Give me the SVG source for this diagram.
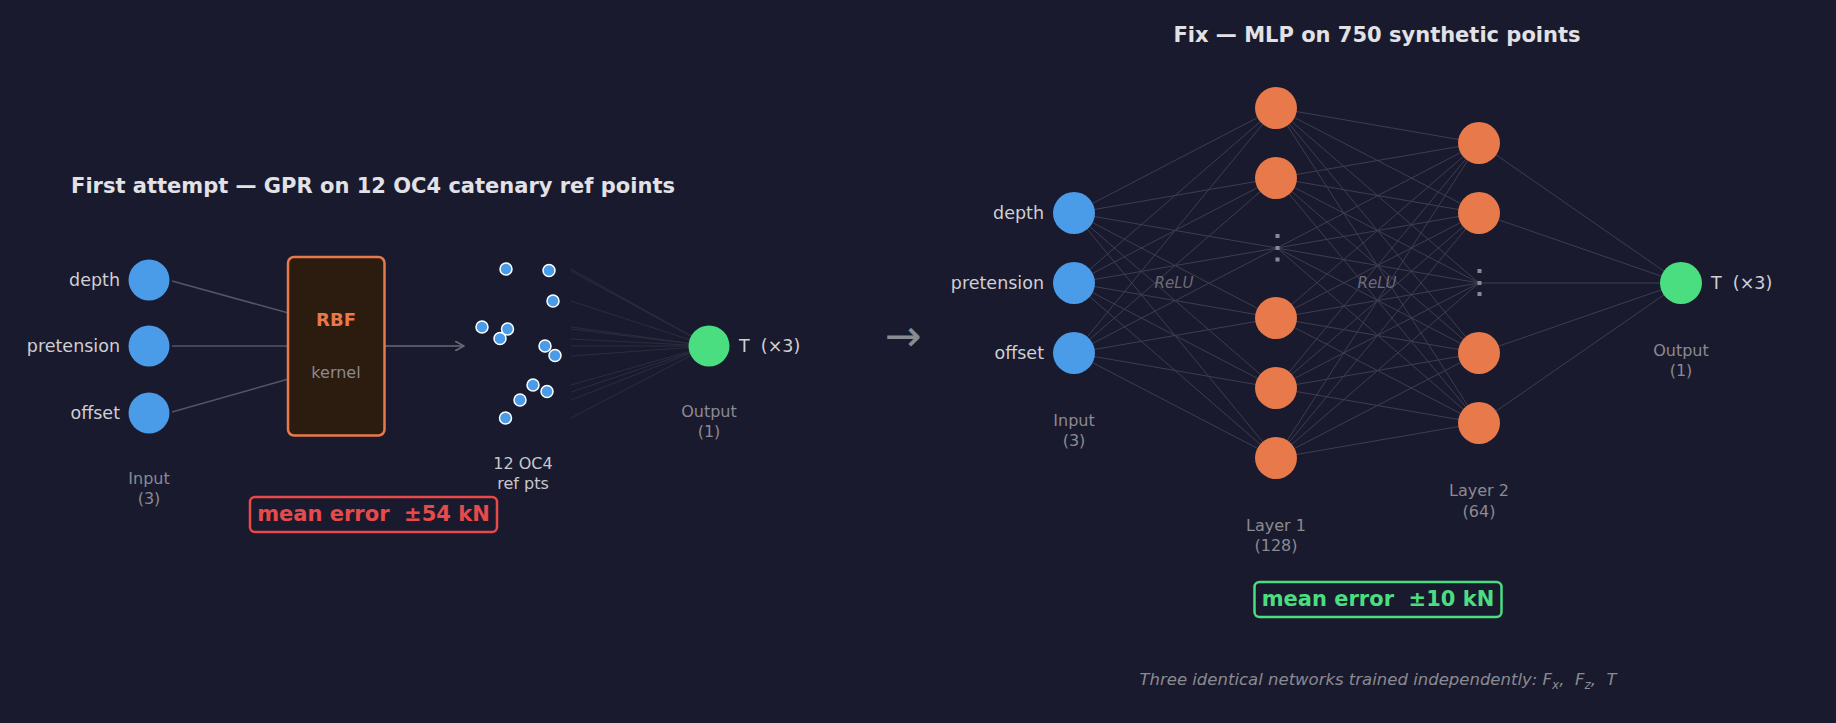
<svg xmlns="http://www.w3.org/2000/svg" width="1836" height="723" viewBox="0 0 1836 723">
<defs>
<style>
text{font-family:"DejaVu Sans","Noto Sans",sans-serif;white-space:pre}
.title{font-size:21px;font-weight:bold;fill:#e2e2e6}
.lbl{font-size:17.5px;fill:#cfcfd4}
.sub{font-size:16px;fill:#8a8a92}
.pts{font-size:16px;fill:#c8c8cc}
.relu{font-size:15px;font-style:italic;fill:#6c6c78}
.dot{fill:#8a8a92}
.inp{fill:#4a9be8}
.hid{fill:#e8794a}
.out{fill:#4ade80}
.sp{fill:#4a9be8;stroke:#ffffff;stroke-width:1.5}
.w{stroke:#3e3e52;stroke-width:1;fill:none}
.f{stroke:#2c2c3e;stroke-width:1;fill:none}
.e{stroke:#55556a;stroke-width:1.5;fill:none}
</style>
<marker id="arr" viewBox="0 0 10 10" refX="9" refY="5" markerWidth="10" markerHeight="10" markerUnits="userSpaceOnUse" orient="auto">
<path d="M0,0 L9,5 L0,10" fill="none" stroke="#6a6a78" stroke-width="1.6"/>
</marker>
</defs>
<rect width="1836" height="723" fill="#1a1a2e"/>

<!-- LEFT PANEL -->
<text class="title" x="373" y="193" text-anchor="middle">First attempt — GPR on 12 OC4 catenary ref points</text>

<g id="connectors-left">
<line class="e" x1="172" y1="281" x2="292" y2="314"/>
<line class="e" x1="172" y1="346" x2="292" y2="346"/>
<line class="e" x1="172" y1="412" x2="292" y2="378"/>
<line x1="381" y1="346" x2="464" y2="346" stroke="#6a6a78" stroke-width="1.6" marker-end="url(#arr)"/>
<g class="f">
<line x1="571" y1="269" x2="709" y2="346"/>
<line x1="571" y1="271" x2="709" y2="346"/>
<line x1="571" y1="301" x2="709" y2="346"/>
<line x1="571" y1="327" x2="709" y2="346"/>
<line x1="571" y1="329" x2="709" y2="346"/>
<line x1="571" y1="339" x2="709" y2="346"/>
<line x1="571" y1="346" x2="709" y2="346"/>
<line x1="571" y1="356" x2="709" y2="346"/>
<line x1="571" y1="385" x2="709" y2="346"/>
<line x1="571" y1="392" x2="709" y2="346"/>
<line x1="571" y1="400" x2="709" y2="346"/>
<line x1="571" y1="418" x2="709" y2="346"/>
</g>
</g>

<g id="gpr-input-depth"><circle class="inp" cx="149" cy="280" r="20.5"/><text class="lbl" x="120" y="286" text-anchor="end">depth</text></g>
<g id="gpr-input-pretension"><circle class="inp" cx="149" cy="346" r="20.5"/><text class="lbl" x="120" y="352" text-anchor="end">pretension</text></g>
<g id="gpr-input-offset"><circle class="inp" cx="149" cy="413" r="20.5"/><text class="lbl" x="120" y="419" text-anchor="end">offset</text></g>
<g id="gpr-input-label"><text class="sub" x="149" y="484" text-anchor="middle">Input</text><text class="sub" x="149" y="504" text-anchor="middle">(3)</text></g>

<g id="rbf-kernel">
<rect x="288" y="257" width="96.5" height="178.5" rx="6" fill="#2c1c10" stroke="#e8794a" stroke-width="2.5"/>
<text x="336" y="326" text-anchor="middle" font-size="18" font-weight="bold" fill="#e8794a">RBF</text>
<text x="336" y="378" text-anchor="middle" font-size="16" fill="#8a8a92">kernel</text>
</g>

<g id="ref-points">
<circle class="sp" cx="506" cy="269" r="6"/>
<circle class="sp" cx="549" cy="270.5" r="6"/>
<circle class="sp" cx="553" cy="301" r="6"/>
<circle class="sp" cx="482" cy="327" r="6"/>
<circle class="sp" cx="500" cy="338.5" r="6"/>
<circle class="sp" cx="507.5" cy="329" r="6"/>
<circle class="sp" cx="545" cy="346" r="6"/>
<circle class="sp" cx="555" cy="355.5" r="6"/>
<circle class="sp" cx="533" cy="385" r="6"/>
<circle class="sp" cx="547" cy="391.5" r="6"/>
<circle class="sp" cx="520" cy="400" r="6"/>
<circle class="sp" cx="505.5" cy="418" r="6"/>
<text class="pts" x="523" y="469" text-anchor="middle">12 OC4</text>
<text class="pts" x="523" y="489" text-anchor="middle">ref pts</text>
</g>

<g id="gpr-output"><circle class="out" cx="709" cy="346" r="20.5"/><text class="lbl" x="739" y="352" xml:space="preserve">T  (×3)</text>
<text class="sub" x="709" y="417" text-anchor="middle">Output</text><text class="sub" x="709" y="437" text-anchor="middle">(1)</text></g>

<g id="gpr-error">
<rect x="250" y="497" width="247" height="35" rx="5" fill="none" stroke="#e84a4a" stroke-width="2.5"/>
<text x="373.5" y="521" text-anchor="middle" font-size="21" font-weight="bold" fill="#e84a4a" xml:space="preserve">mean error  ±54 kN</text>
</g>

<text x="903" y="351" text-anchor="middle" font-size="44" fill="#8a8a92">→</text>

<!-- RIGHT PANEL -->
<text class="title" x="1377" y="41.5" text-anchor="middle">Fix — MLP on 750 synthetic points</text>

<g id="connectors-mlp" class="w">
<line x1="1074" y1="213" x2="1276" y2="108"/><line x1="1074" y1="213" x2="1276" y2="178"/><line x1="1074" y1="213" x2="1277" y2="248"/><line x1="1074" y1="213" x2="1276" y2="318"/><line x1="1074" y1="213" x2="1276" y2="388"/><line x1="1074" y1="213" x2="1276" y2="458"/>
<line x1="1074" y1="283" x2="1276" y2="108"/><line x1="1074" y1="283" x2="1276" y2="178"/><line x1="1074" y1="283" x2="1277" y2="248"/><line x1="1074" y1="283" x2="1276" y2="318"/><line x1="1074" y1="283" x2="1276" y2="388"/><line x1="1074" y1="283" x2="1276" y2="458"/>
<line x1="1074" y1="353" x2="1276" y2="108"/><line x1="1074" y1="353" x2="1276" y2="178"/><line x1="1074" y1="353" x2="1277" y2="248"/><line x1="1074" y1="353" x2="1276" y2="318"/><line x1="1074" y1="353" x2="1276" y2="388"/><line x1="1074" y1="353" x2="1276" y2="458"/>
<line x1="1276" y1="108" x2="1479" y2="143"/><line x1="1276" y1="108" x2="1479" y2="213"/><line x1="1276" y1="108" x2="1479" y2="283"/><line x1="1276" y1="108" x2="1479" y2="353"/><line x1="1276" y1="108" x2="1479" y2="423"/>
<line x1="1276" y1="178" x2="1479" y2="143"/><line x1="1276" y1="178" x2="1479" y2="213"/><line x1="1276" y1="178" x2="1479" y2="283"/><line x1="1276" y1="178" x2="1479" y2="353"/><line x1="1276" y1="178" x2="1479" y2="423"/>
<line x1="1277" y1="248" x2="1479" y2="143"/><line x1="1277" y1="248" x2="1479" y2="213"/><line x1="1277" y1="248" x2="1479" y2="283"/><line x1="1277" y1="248" x2="1479" y2="353"/><line x1="1277" y1="248" x2="1479" y2="423"/>
<line x1="1276" y1="318" x2="1479" y2="143"/><line x1="1276" y1="318" x2="1479" y2="213"/><line x1="1276" y1="318" x2="1479" y2="283"/><line x1="1276" y1="318" x2="1479" y2="353"/><line x1="1276" y1="318" x2="1479" y2="423"/>
<line x1="1276" y1="388" x2="1479" y2="143"/><line x1="1276" y1="388" x2="1479" y2="213"/><line x1="1276" y1="388" x2="1479" y2="283"/><line x1="1276" y1="388" x2="1479" y2="353"/><line x1="1276" y1="388" x2="1479" y2="423"/>
<line x1="1276" y1="458" x2="1479" y2="143"/><line x1="1276" y1="458" x2="1479" y2="213"/><line x1="1276" y1="458" x2="1479" y2="283"/><line x1="1276" y1="458" x2="1479" y2="353"/><line x1="1276" y1="458" x2="1479" y2="423"/>
<line x1="1479" y1="143" x2="1681" y2="283"/><line x1="1479" y1="213" x2="1681" y2="283"/><line x1="1479" y1="283" x2="1681" y2="283"/><line x1="1479" y1="353" x2="1681" y2="283"/><line x1="1479" y1="423" x2="1681" y2="283"/>
</g>

<text class="relu" x="1174" y="288" text-anchor="middle">ReLU</text>
<text class="relu" x="1377" y="288" text-anchor="middle">ReLU</text>

<g id="mlp-input-depth"><circle class="inp" cx="1074" cy="213" r="21"/><text class="lbl" x="1044" y="219" text-anchor="end">depth</text></g>
<g id="mlp-input-pretension"><circle class="inp" cx="1074" cy="283" r="21"/><text class="lbl" x="1044" y="289" text-anchor="end">pretension</text></g>
<g id="mlp-input-offset"><circle class="inp" cx="1074" cy="353" r="21"/><text class="lbl" x="1044" y="359" text-anchor="end">offset</text></g>
<g id="mlp-input-label"><text class="sub" x="1074" y="426" text-anchor="middle">Input</text><text class="sub" x="1074" y="446" text-anchor="middle">(3)</text></g>

<g id="mlp-layer1">
<circle class="hid" cx="1276" cy="108" r="21"/>
<circle class="hid" cx="1276" cy="178" r="21"/>
<rect class="dot" x="1275.5" y="234" width="4" height="4"/>
<rect class="dot" x="1275.5" y="246" width="4" height="4"/>
<rect class="dot" x="1275.5" y="257.5" width="4" height="4"/>
<circle class="hid" cx="1276" cy="318" r="21"/>
<circle class="hid" cx="1276" cy="388" r="21"/>
<circle class="hid" cx="1276" cy="458" r="21"/>
<text class="sub" x="1276" y="531" text-anchor="middle">Layer 1</text>
<text class="sub" x="1276" y="551" text-anchor="middle">(128)</text>
</g>

<g id="mlp-layer2">
<circle class="hid" cx="1479" cy="143" r="21"/>
<circle class="hid" cx="1479" cy="213" r="21"/>
<rect class="dot" x="1477.5" y="269" width="4" height="4"/>
<rect class="dot" x="1477.5" y="281" width="4" height="4"/>
<rect class="dot" x="1477.5" y="292" width="4" height="4"/>
<circle class="hid" cx="1479" cy="353" r="21"/>
<circle class="hid" cx="1479" cy="423" r="21"/>
<text class="sub" x="1479" y="496" text-anchor="middle">Layer 2</text>
<text class="sub" x="1479" y="517" text-anchor="middle">(64)</text>
</g>

<g id="mlp-output"><circle class="out" cx="1681" cy="283" r="21"/><text class="lbl" x="1711" y="289" xml:space="preserve">T  (×3)</text>
<text class="sub" x="1681" y="356" text-anchor="middle">Output</text><text class="sub" x="1681" y="376" text-anchor="middle">(1)</text></g>

<g id="mlp-error">
<rect x="1254.5" y="582" width="247" height="35" rx="5" fill="none" stroke="#4ade80" stroke-width="2.5"/>
<text x="1378" y="606" text-anchor="middle" font-size="21" font-weight="bold" fill="#4ade80" xml:space="preserve">mean error  ±10 kN</text>
</g>

<text x="1378" y="685" text-anchor="middle" font-size="16.5" font-style="italic" fill="#8a8a92" xml:space="preserve">Three identical networks trained independently: F<tspan font-size="12" dy="4">x</tspan><tspan dy="-4">,  F</tspan><tspan font-size="12" dy="4">z</tspan><tspan dy="-4">,  T</tspan></text>
</svg>
